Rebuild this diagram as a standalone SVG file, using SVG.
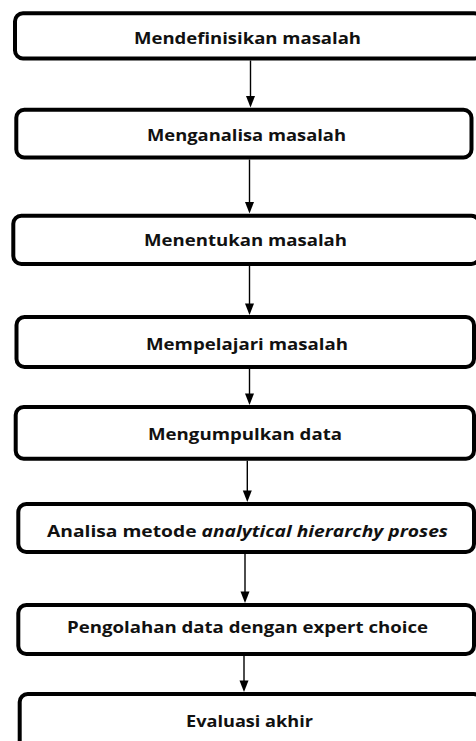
<svg xmlns="http://www.w3.org/2000/svg" width="476" height="741" viewBox="0 0 476 741">
<style>
.box{fill:#fff;stroke:#000;stroke-width:4}
.lbl{font-family:"Open Sans","Noto Sans","Liberation Sans",sans-serif;font-weight:700;font-size:16.5px;fill:#111}
.conn{stroke:#000;stroke-width:1.4;fill:none}
.head{fill:#000}
</style>
<rect width="476" height="741" fill="#fff"/>
<g id="connectors">
<line class="conn" x1="250.5" y1="60.5" x2="250.5" y2="96.5"/>
<polygon class="head" points="246,96 255,96 250.5,107.5"/>
<line class="conn" x1="249.5" y1="159.5" x2="249.5" y2="202.5"/>
<polygon class="head" points="245,202 254,202 249.5,213.5"/>
<line class="conn" x1="249.5" y1="266" x2="249.5" y2="304"/>
<polygon class="head" points="245,303.5 254,303.5 249.5,315"/>
<line class="conn" x1="249.5" y1="369" x2="249.5" y2="394"/>
<polygon class="head" points="245,393.5 254,393.5 249.5,405"/>
<line class="conn" x1="247.3" y1="460.7" x2="247.3" y2="491"/>
<polygon class="head" points="242.8,490.5 251.8,490.5 247.3,502"/>
<line class="conn" x1="245" y1="554" x2="245" y2="592"/>
<polygon class="head" points="240.5,591.5 249.5,591.5 245,603"/>
<line class="conn" x1="244" y1="656" x2="244" y2="681"/>
<polygon class="head" points="239.5,680.5 248.5,680.5 244,692"/>
</g>
<g id="n1">
<rect class="box" x="15" y="13.3" width="467" height="45.2" rx="8"/>
<text class="lbl" x="134" y="43.5" textLength="227" lengthAdjust="spacingAndGlyphs">Mendefinisikan masalah</text>
</g>
<g id="n2">
<rect class="box" x="16.3" y="109.7" width="455.2" height="47.8" rx="8"/>
<text class="lbl" x="147" y="141" textLength="199" lengthAdjust="spacingAndGlyphs">Menganalisa masalah</text>
</g>
<g id="n3">
<rect class="box" x="13.3" y="215.7" width="466" height="48.3" rx="8"/>
<text class="lbl" x="144" y="246" textLength="203" lengthAdjust="spacingAndGlyphs">Menentukan masalah</text>
</g>
<g id="n4">
<rect class="box" x="16.5" y="317" width="457.5" height="50" rx="8"/>
<text class="lbl" x="146" y="350" textLength="202" lengthAdjust="spacingAndGlyphs">Mempelajari masalah</text>
</g>
<g id="n5">
<rect class="box" x="15.7" y="407" width="458.3" height="51.7" rx="8"/>
<text class="lbl" x="148" y="440" textLength="194" lengthAdjust="spacingAndGlyphs">Mengumpulkan data</text>
</g>
<g id="n6">
<rect class="box" x="18.3" y="504" width="455.7" height="48" rx="8"/>
<text class="lbl" x="47" y="536.5" textLength="401" lengthAdjust="spacingAndGlyphs">Analisa metode <tspan font-style="italic">analytical hierarchy proses</tspan></text>
</g>
<g id="n7">
<rect class="box" x="18.3" y="605" width="455.7" height="49" rx="8"/>
<text class="lbl" x="67" y="633" textLength="361" lengthAdjust="spacingAndGlyphs">Pengolahan data dengan expert choice</text>
</g>
<g id="n8">
<rect class="box" x="19.7" y="694" width="462" height="60" rx="8"/>
<text class="lbl" x="186" y="726.5" textLength="127" lengthAdjust="spacingAndGlyphs">Evaluasi akhir</text>
</g>
</svg>
